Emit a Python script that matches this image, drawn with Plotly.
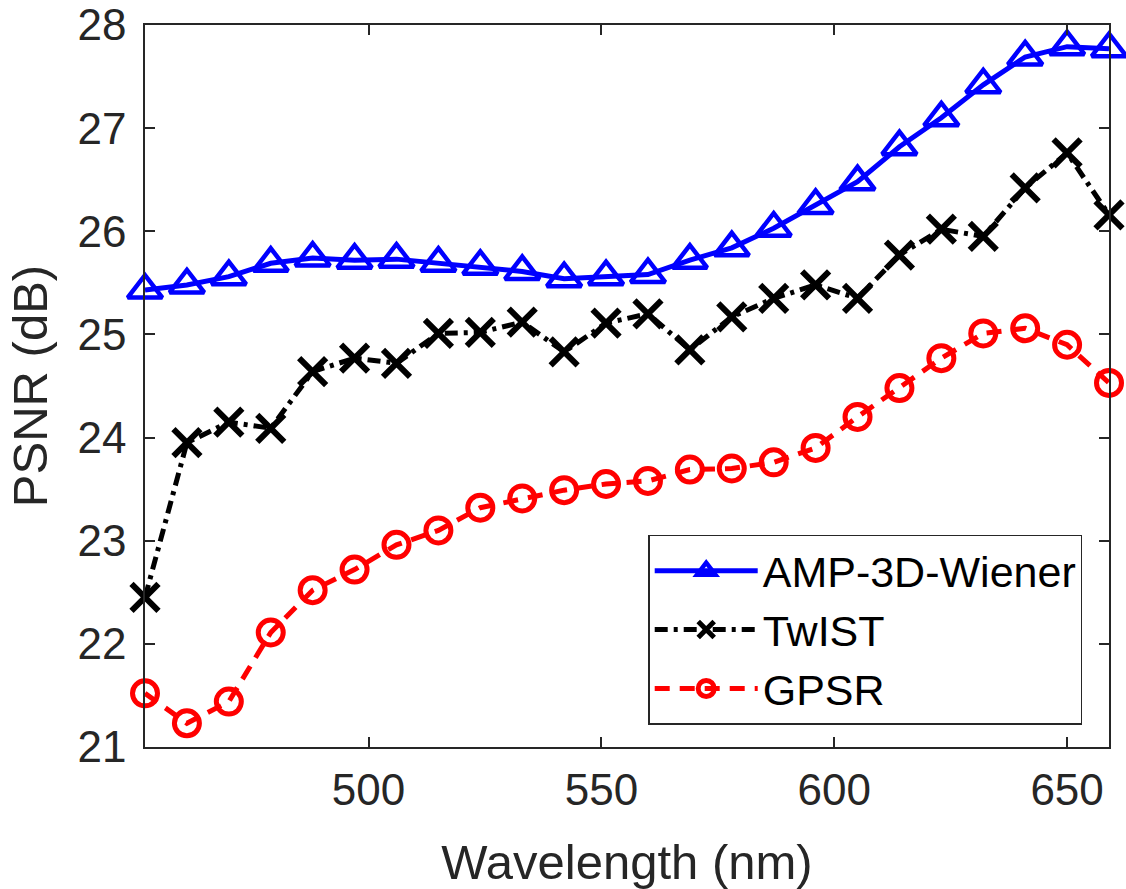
import plotly.graph_objects as go

wavelength = [452, 461, 470, 479, 488, 497, 506, 515, 524, 533, 542, 551,
              560, 569, 578, 587, 596, 605, 614, 623, 632, 641, 650, 659]

amp_3d_wiener = [25.43, 25.48, 25.56, 25.69, 25.74, 25.72, 25.73, 25.69, 25.66, 25.61, 25.54, 25.56,
                 25.58, 25.72, 25.84, 26.03, 26.25, 26.48, 26.82, 27.10, 27.42, 27.69, 27.79, 27.77]

twist = [22.45, 23.95, 24.15, 24.09, 24.64, 24.77, 24.72, 25.01, 25.02, 25.12, 24.83, 25.11,
         25.20, 24.85, 25.17, 25.35, 25.48, 25.35, 25.77, 26.02, 25.95, 26.42, 26.76, 26.16]

gpsr = [21.52, 21.23, 21.44, 22.11, 22.52, 22.72, 22.96, 23.10, 23.32, 23.41, 23.49, 23.55,
        23.58, 23.69, 23.70, 23.76, 23.90, 24.20, 24.48, 24.77, 25.01, 25.06, 24.90, 24.53]

x_ticks = [500, 550, 600, 650]
y_ticks = [21, 22, 23, 24, 25, 26, 27, 28]

FONT = "Liberation Sans, Arial, Helvetica, sans-serif"
AX = "#262626"

fig = go.Figure()

fig.add_trace(go.Scatter(
    x=wavelength, y=amp_3d_wiener, name="AMP-3D-Wiener", mode="lines+markers",
    line=dict(color="#0000ff", width=5),
    marker=dict(symbol="triangle-up-open", size=30, color="#0000ff",
                line=dict(color="#0000ff", width=4.5)),
    cliponaxis=False,
))
fig.add_trace(go.Scatter(
    x=wavelength, y=twist, name="TwIST", mode="lines+markers",
    line=dict(color="#000000", width=5, dash="13px,6px,4px,6px"),
    marker=dict(symbol="x-thin", size=27, color="#000000",
                line=dict(color="#000000", width=6)),
    cliponaxis=False,
))
fig.add_trace(go.Scatter(
    x=wavelength, y=gpsr, name="GPSR", mode="lines+markers",
    line=dict(color="#ff0000", width=5, dash="15px,10px"),
    marker=dict(symbol="circle-open", size=25, color="#ff0000",
                line=dict(color="#ff0000", width=5)),
    cliponaxis=False,
))

fig.update_layout(
    width=1126, height=889,
    margin=dict(l=145, r=17, t=25, b=142),
    paper_bgcolor="white", plot_bgcolor="white",
    font=dict(family=FONT, color=AX, size=44),
    showlegend=True,
    legend=dict(
        x=0.522, y=0.294, xanchor="left", yanchor="top",
        bgcolor="white", bordercolor=AX, borderwidth=1.5,
        font=dict(family=FONT, size=43, color="#000000"),
        tracegroupgap=0, itemwidth=103,
    ),
    xaxis=dict(
        range=[452, 659], tickvals=x_ticks, ticktext=[str(v) for v in x_ticks],
        showgrid=False, zeroline=False, automargin=False,
        showline=True, linecolor=AX, linewidth=1.5, mirror="ticks",
        ticks="inside", ticklen=10, tickwidth=1.5, tickcolor=AX,
        tickfont=dict(family=FONT, size=44, color=AX),
        ticklabelstandoff=3, ticklabeloverflow="allow",
        title=dict(text="Wavelength (nm)", font=dict(family=FONT, size=49, color=AX), standoff=32),
    ),
    yaxis=dict(
        range=[21, 28], tickvals=y_ticks, ticktext=[str(v) for v in y_ticks],
        showgrid=False, zeroline=False, automargin=False,
        showline=True, linecolor=AX, linewidth=1.5, mirror="ticks",
        ticks="inside", ticklen=10, tickwidth=1.5, tickcolor=AX,
        tickfont=dict(family=FONT, size=44, color=AX),
        ticklabelstandoff=8, ticklabeloverflow="allow",
        title=dict(text="PSNR (dB)", font=dict(family=FONT, size=49, color=AX), standoff=14),
    ),
)

# remove the default page margin so the figure sits at the window's top-left corner
fig.write_html("out.html", config={"displayModeBar": False},
               post_script="document.body.style.margin='0';")
